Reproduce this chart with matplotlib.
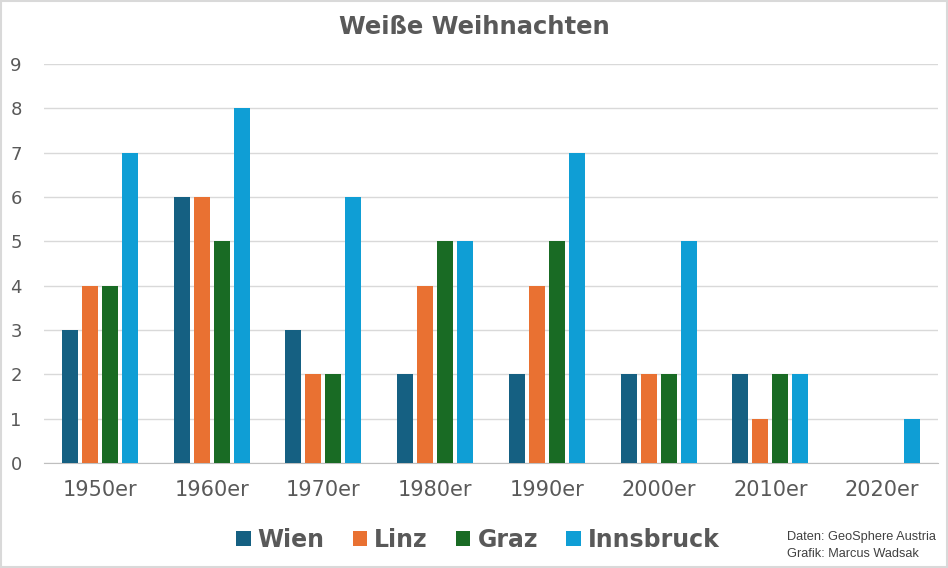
import numpy as np
import matplotlib.pyplot as plt
from matplotlib.patches import Rectangle

# Data
decades = ["1950er", "1960er", "1970er", "1980er", "1990er", "2000er", "2010er", "2020er"]
cities = ["Wien", "Linz", "Graz", "Innsbruck"]
wien = [3, 6, 3, 2, 2, 2, 2, 0]
linz = [4, 6, 2, 4, 4, 2, 1, 0]
graz = [4, 5, 2, 5, 5, 2, 2, 0]
innsbruck = [7, 8, 6, 5, 7, 5, 2, 1]
colors = ["#156082", "#E97132", "#196B24", "#0F9ED5"]

series = [wien, linz, graz, innsbruck]
grey = "#595959"

fig = plt.figure(figsize=(9.48, 5.68), dpi=100)
ax = fig.add_axes([44 / 948, 105 / 568, 894 / 948, 399 / 568])

x = np.arange(len(decades))
w = 0.143
step = 0.179
for i, (vals, col, name) in enumerate(zip(series, colors, cities)):
    ax.bar(x + (i - 1.5) * step, vals, w, color=col, label=name, zorder=3)

ax.set_xlim(-0.5, len(decades) - 0.5)
ax.set_ylim(0, 9)
ax.set_yticks(range(10))
ax.set_xticks(x)
ax.set_xticklabels(decades)
ax.tick_params(axis="x", length=0, labelsize=15, colors=grey, pad=12)
ax.tick_params(axis="y", length=0, labelsize=13, colors=grey, pad=16)
ax.grid(axis="y", color="#D9D9D9", linewidth=1, zorder=0)
for s in ["top", "right", "left"]:
    ax.spines[s].set_visible(False)
ax.spines["bottom"].set_color("#BFBFBF")

fig.text(0.5, 1 - 27 / 568, "Weiße Weihnachten", ha="center", va="center",
         fontsize=17.5, fontweight="bold", color=grey)

leg = fig.legend(loc="center", bbox_to_anchor=(478 / 948, 1 - 540 / 568), ncol=4,
                 frameon=False, fontsize=17, handlelength=0.6, handleheight=0.6,
                 handletextpad=0.3, columnspacing=1.2)
for t in leg.get_texts():
    t.set_color(grey)
    t.set_fontweight("bold")

foot = ["Liberation Sans", "DejaVu Sans"]
fig.text(787 / 948, 1 - 537 / 568, "Daten: GeoSphere Austria", fontsize=9.2,
         family=foot, color="#404040", va="center")
fig.text(787 / 948, 1 - 554 / 568, "Grafik: Marcus Wadsak", fontsize=9.2,
         family=foot, color="#404040", va="center")

fig.patches.append(Rectangle((0.001, 0.001), 0.998, 0.998, transform=fig.transFigure,
                             fill=False, edgecolor="#D9D9D9", linewidth=1.5))

fig.savefig("out.png", dpi=100)
